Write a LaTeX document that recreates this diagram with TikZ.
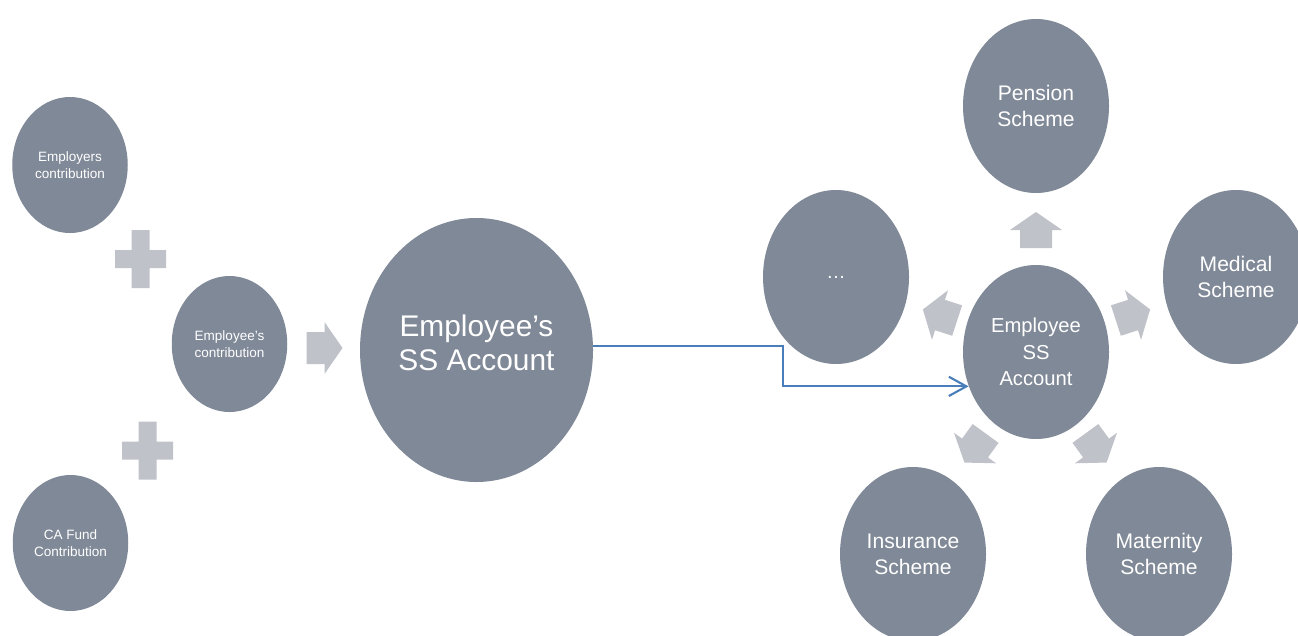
\documentclass[tikz,border=0pt]{standalone}
\usepackage{xcolor}
\usepackage{fontspec}
\setmainfont{Liberation Sans}
\usepackage{tikz}
\usetikzlibrary{arrows.meta, shapes.geometric}

\definecolor{bubblegray}{RGB}{128,137,151}
\definecolor{arrowgray}{RGB}{191,194,201}
\definecolor{linkblue}{RGB}{74,126,187}

\newcommand{\blockarrow}[3]{%
	\fill[arrowgray, shift={#1}, rotate=#2, scale=#3] (-0.36,-0.32) -- (0,-0.32) -- (0,-0.52) -- (0.36,0) -- (0,0.52) -- (0,0.32) -- (-0.36,0.32) -- cycle;}
\newcommand{\plussign}[1]{%
	\fill[arrowgray, shift={#1}] (-0.51,-0.18) rectangle (0.51,0.18) (-0.18,-0.58) rectangle (0.18,0.58);}

\begin{document}
\begin{tikzpicture}[
			bubble/.style={ellipse, fill=bubblegray, text=white, align=center, inner sep=0pt},
			small/.style={bubble, minimum width=2.31cm, minimum height=2.72cm, font=\fontsize{7.7}{9.7}\selectfont},
			scheme/.style={bubble, minimum width=2.92cm, minimum height=3.48cm, font=\fontsize{12}{14.8}\selectfont},
			link/.style={draw=linkblue, line width=1.2pt, -{Straight Barb[length=10pt,width=11pt]}}]
			
			\clip (0,0) rectangle (25.96,-12.7);
			
			% left: contributions
			\node[small] (emplr) at (1.40,-3.30) {Employers\\contribution};
			\node[small] (emplee) at (4.59,-6.88) {Employee's\\contribution};
			\node[small] (cafund) at (1.41,-10.86) {CA Fund\\Contribution};
			\plussign{(2.81,-5.18)}
			\plussign{(2.95,-9.01)}
			\blockarrow{(6.49,-6.96)}{0}{1.0}
			\node[bubble, minimum width=4.66cm, minimum height=5.28cm, text depth=0.3cm, font=\fontsize{17}{19.3}\selectfont] (bigacc) at (9.53,-7.00) {Employee’s\\SS Account};
			
			% right: schemes round the account
			\node[scheme, font=\fontsize{11.5}{15}\selectfont] (cenacc) at (20.72,-7.04) {Employee\\SS\\Account};
			\node[scheme] (pension) at (20.72,-2.12) {Pension\\Scheme};
			\node[scheme, font=\fontsize{11}{13}\selectfont] (dots) at (16.72,-5.54) {…};
			\node[scheme] (medical) at (24.72,-5.54) {Medical\\Scheme};
			\node[scheme] (insur) at (18.26,-11.08) {Insurance\\Scheme};
			\node[scheme] (matern) at (23.18,-11.08) {Maternity\\Scheme};
			\foreach \pos/\ang in {(20.72,-4.60)/90, (18.80,-6.30)/162, (22.66,-6.30)/18, (19.50,-8.96)/234, (21.92,-8.96)/306}
				{\blockarrow{\pos}{\ang}{1.0}}
			
			\draw[link] (bigacc.2) -- ++(3.8,0) |- (cenacc.207);
		\end{tikzpicture}
\end{document}
